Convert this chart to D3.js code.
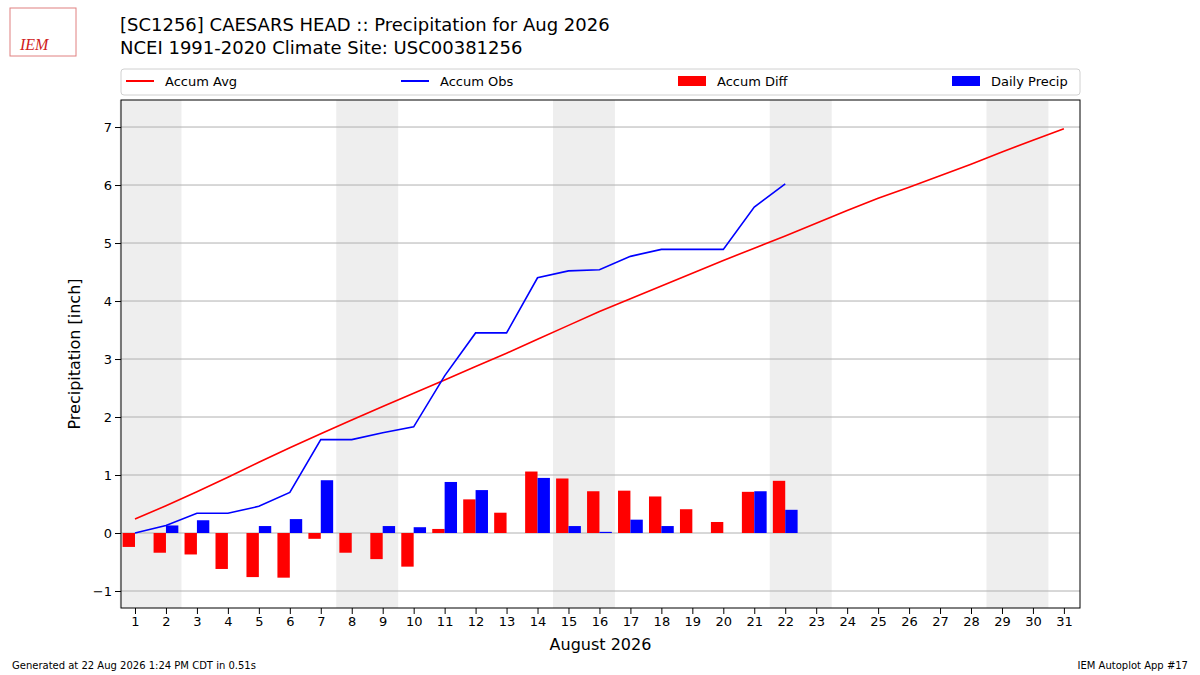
<!DOCTYPE html>
<html><head><meta charset="utf-8">
<script src="https://cdn.jsdelivr.net/npm/d3@7"></script>
<style>body{margin:0;background:#fff;font-family:"DejaVu Sans",sans-serif}</style>
</head><body><svg id="c" width="1200" height="675"></svg>
<script>
var days = d3.range(1, 32);
var accumAvg = [0.24,0.47,0.71,0.96,1.22,1.47,1.71,1.95,2.18,2.41,2.64,2.87,3.10,3.34,3.58,3.82,4.04,4.26,4.48,4.70,4.91,5.12,5.34,5.56,5.77,5.96,6.16,6.36,6.57,6.77,6.97];
var dailyPrecip = [0,0.13,0.22,0,0.12,0.24,0.91,0,0.12,0.10,0.88,0.74,0,0.95,0.12,0.02,0.23,0.12,0,0,0.72,0.40];
var accumObs = [0,0.13,0.34,0.34,0.46,0.70,1.61,1.61,1.73,1.83,2.71,3.45,3.45,4.40,4.52,4.54,4.77,4.89,4.89,4.89,5.62,6.02];
var weekendStarts = [1, 8, 15, 22, 29];
var yTicks = [-1,0,1,2,3,4,5,6,7];

var svg = d3.select("#c");
var L = 121, R = 1080, T = 100, B = 608;
var x = d3.scaleLinear().domain([0.548, 31.52]).range([L, R]);
var y = d3.scaleLinear().domain([-1.293, 7.466]).range([B, T]);

// weekend shading
svg.selectAll("rect.wk").data(weekendStarts).enter().append("rect")
  .attr("x", function(d){ return x(d - 0.5); })
  .attr("width", function(d){ return x(d + 1.5) - x(d - 0.5); })
  .attr("y", T).attr("height", B - T).attr("fill", "#eeeeee");

// grid
svg.selectAll("line.g").data(yTicks).enter().append("line")
  .attr("x1", L).attr("x2", R).attr("y1", y).attr("y2", y)
  .attr("stroke", "#b0b0b0").attr("stroke-width", 1);

// bars
var bw = 0.4;
svg.selectAll("rect.diff").data(accumObs).enter().append("rect")
  .attr("x", function(d, i){ return x(i + 1 - bw); })
  .attr("width", x(bw) - x(0))
  .attr("y", function(d, i){ return y(Math.max(0, d - accumAvg[i])); })
  .attr("height", function(d, i){ return Math.abs(y(d - accumAvg[i]) - y(0)); })
  .attr("fill", "red");
svg.selectAll("rect.pr").data(dailyPrecip).enter().append("rect")
  .attr("x", function(d, i){ return x(i + 1); })
  .attr("width", x(bw) - x(0))
  .attr("y", function(d){ return y(d); })
  .attr("height", function(d){ return y(0) - y(d); })
  .attr("fill", "blue");

// lines
var line = d3.line().x(function(d, i){ return x(i + 1); }).y(function(d){ return y(d); });
svg.append("path").attr("d", line(accumAvg)).attr("fill", "none").attr("stroke", "red").attr("stroke-width", 1.6);
svg.append("path").attr("d", line(accumObs)).attr("fill", "none").attr("stroke", "blue").attr("stroke-width", 1.6);

// frame + axes
svg.append("rect").attr("x", L).attr("y", T).attr("width", R - L).attr("height", B - T)
  .attr("fill", "none").attr("stroke", "#000").attr("stroke-width", 1);
svg.append("g").attr("transform", "translate(0," + B + ")")
  .call(d3.axisBottom(x).tickValues(days).tickFormat(d3.format("d")).tickSizeOuter(0))
  .call(function(g){ g.select(".domain").remove(); g.selectAll("text").attr("font-size", 13).attr("font-family", "DejaVu Sans"); });
svg.append("g").attr("transform", "translate(" + L + ",0)")
  .call(d3.axisLeft(y).tickValues(yTicks).tickFormat(function(d){ return d < 0 ? "\u2212" + (-d) : d; }).tickSizeOuter(0))
  .call(function(g){ g.select(".domain").remove(); g.selectAll("text").attr("font-size", 13).attr("font-family", "DejaVu Sans"); });

svg.append("text").attr("x", (L + R) / 2).attr("y", 650).attr("text-anchor", "middle")
  .attr("font-size", 16).text("August 2026");
svg.append("text").attr("transform", "translate(80," + (T + B) / 2 + ") rotate(-90)")
  .attr("text-anchor", "middle").attr("font-size", 16).text("Precipitation [inch]");

// titles
svg.append("text").attr("x", 120).attr("y", 31).attr("font-size", 18).text("[SC1256] CAESARS HEAD :: Precipitation for Aug 2026");
svg.append("text").attr("x", 120).attr("y", 54).attr("font-size", 18).text("NCEI 1991-2020 Climate Site: USC00381256");

// legend
svg.append("rect").attr("x", L).attr("y", 69).attr("width", R - L).attr("height", 26)
  .attr("fill", "#fff").attr("stroke", "#d0d0d0").attr("rx", 3);
var leg = [
  {t: "Accum Avg", c: "red", k: "line", x: 126},
  {t: "Accum Obs", c: "blue", k: "line", x: 401},
  {t: "Accum Diff", c: "red", k: "bar", x: 678},
  {t: "Daily Precip", c: "blue", k: "bar", x: 952}
];
leg.forEach(function(l){
  if (l.k === "line") svg.append("line").attr("x1", l.x).attr("x2", l.x + 28).attr("y1", 81).attr("y2", 81).attr("stroke", l.c).attr("stroke-width", 2);
  else svg.append("rect").attr("x", l.x).attr("y", 76).attr("width", 28).attr("height", 10).attr("fill", l.c);
  svg.append("text").attr("x", l.x + 39).attr("y", 86).attr("font-size", 13).text(l.t);
});

// logo (simplified)
svg.append("rect").attr("x", 10).attr("y", 8).attr("width", 66).attr("height", 48).attr("fill", "none").attr("stroke", "#e08080");
svg.append("text").attr("x", 20).attr("y", 50).attr("font-size", 16).attr("fill", "#d02020")
  .attr("font-family", "Liberation Serif").attr("font-style", "italic").text("IEM");

// footer
svg.append("text").attr("x", 12).attr("y", 669).attr("font-size", 10).text("Generated at 22 Aug 2026 1:24 PM CDT in 0.51s");
svg.append("text").attr("x", 1188).attr("y", 669).attr("text-anchor", "end").attr("font-size", 10).text("IEM Autoplot App #17");
</script></body></html>
